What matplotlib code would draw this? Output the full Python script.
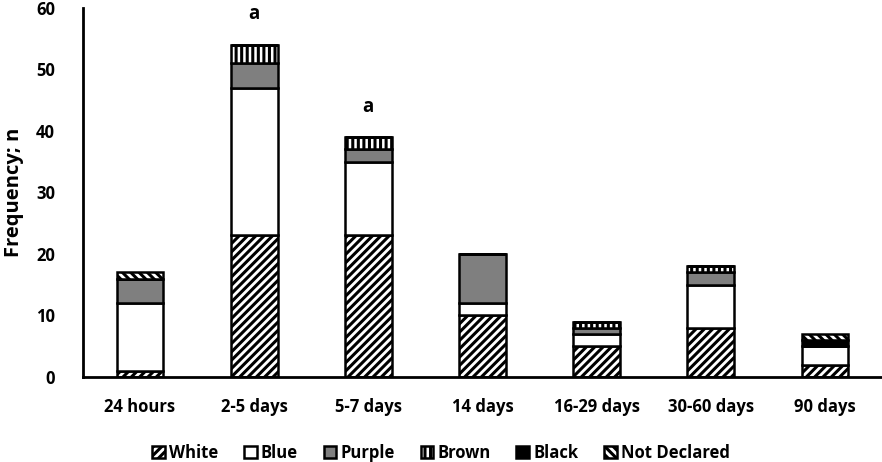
import matplotlib
matplotlib.use("Agg")
import matplotlib.pyplot as plt
import numpy as np

plt.rcParams['font.family'] = ['Open Sans', 'DejaVu Sans']
plt.rcParams['hatch.linewidth'] = 2.2

categories = ["24 hours", "2-5 days", "5-7 days", "14 days", "16-29 days", "30-60 days", "90 days"]
series_names = ["White", "Blue", "Purple", "Brown", "Black", "Not Declared"]
white = [1, 23, 23, 10, 5, 8, 2]
blue = [11, 24, 12, 2, 2, 7, 3]
purple = [4, 4, 2, 8, 1, 2, 0]
brown = [0, 3, 2, 0, 1, 1, 0]
black = [0, 0, 0, 0, 0, 0, 1]
not_declared = [1, 0, 0, 0, 0, 0, 1]
annotations = {1: "a", 2: "a"}
yticks = [0, 10, 20, 30, 40, 50, 60]

series = [white, blue, purple, brown, black, not_declared]
styles = [
    dict(facecolor="white", hatch="////"),
    dict(facecolor="white", hatch=None),
    dict(facecolor="#7f7f7f", hatch=None),
    dict(facecolor="white", hatch="|||"),
    dict(facecolor="black", hatch=None),
    dict(facecolor="white", hatch="\\\\\\\\"),
]

fig = plt.figure(figsize=(8.82, 4.62), dpi=100)
ax = fig.add_axes([0.094, 0.184, 0.906, 0.799])
x = np.arange(len(categories))
bottom = np.zeros(len(categories))
handles = []
for name, vals, st in zip(series_names, series, styles):
    vals = np.array(vals, dtype=float)
    b = ax.bar(x, vals, width=0.41, bottom=bottom, edgecolor="black", linewidth=1.8,
               label=name, **st)
    handles.append(b)
    bottom += vals

totals = bottom
for i, t in annotations.items():
    ax.text(x[i], totals[i] + 3.3, t, ha="center", va="bottom", fontsize=13.5, fontweight="bold")

ax.set_xlim(-0.5, len(categories) - 0.5)
ax.set_ylim(0, 60)
ax.set_yticks(yticks)
ax.set_xticks(x)
ax.set_xticklabels(categories, fontsize=12, fontweight="bold")
for lbl in ax.get_yticklabels():
    lbl.set_fontsize(12)
    lbl.set_fontweight("bold")
ax.tick_params(axis="y", length=0, pad=20)
ax.tick_params(axis="x", length=0, pad=15)
for s in ["top", "right"]:
    ax.spines[s].set_visible(False)
ax.spines["left"].set_linewidth(2)
ax.spines["bottom"].set_linewidth(2)
ax.set_ylabel("Frequency; n", fontsize=14.5, fontweight="bold", labelpad=9)

fig.legend(handles=handles, labels=series_names, loc="lower center", ncol=6, frameon=False,
           bbox_to_anchor=(0.5, -0.032), prop=dict(weight="bold", size=12),
           handlelength=0.75, handleheight=0.75, handletextpad=0.25, columnspacing=1.55)

fig.savefig("out.png", dpi=100)
